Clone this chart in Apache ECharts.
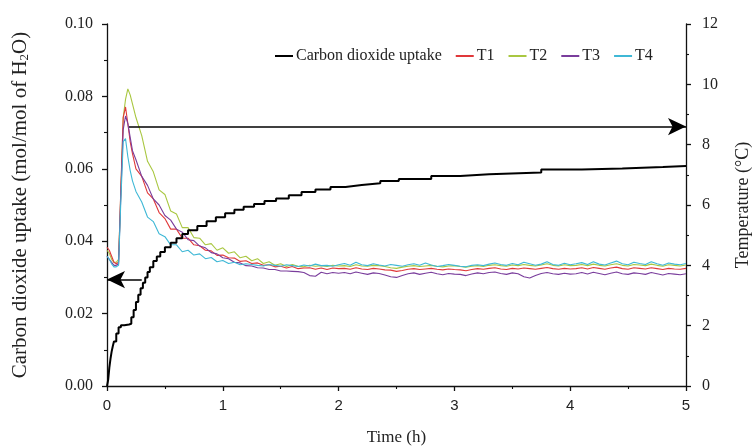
<!DOCTYPE html>
<html><head><meta charset="utf-8">
<script src="https://cdn.jsdelivr.net/npm/echarts@6/dist/echarts.min.js"></script>
<style>html,body{margin:0;padding:0;background:#fff}#c{width:754px;height:447px}</style>
</head><body><div id="c"></div>
<script>
// time (h) shared by temperature series
var time = [0,0.02,0.04,0.06,0.08,0.10,0.12,0.14,0.16,0.18,0.20,0.22,
0.25,0.30,0.35,0.40,0.45,0.50,0.55,0.60,0.65,0.70,0.75,0.80,0.85,0.90,0.95,1.00,
1.05,1.10,1.15,1.20,1.25,1.30,1.35,1.40,1.45,1.50,1.55,1.60,1.65,1.70,1.75,1.80,1.85,1.90,1.95,2.00,
2.05,2.10,2.15,2.20,2.25,2.30,2.35,2.40,2.45,2.50,2.55,2.60,2.65,2.70,2.75,2.80,2.85,2.90,2.95,3.00,
3.05,3.10,3.15,3.20,3.25,3.30,3.35,3.40,3.45,3.50,3.55,3.60,3.65,3.70,3.75,3.80,3.85,3.90,3.95,4.00,
4.05,4.10,4.15,4.20,4.25,4.30,4.35,4.40,4.45,4.50,4.55,4.60,4.65,4.70,4.75,4.80,4.85,4.90,4.95,5.00];

var T1 = [4.6,4.5,4.3,4.1,4.05,4.1,6.6,8.9,9.25,8.7,8.1,7.7,
7.2,6.95,6.4,6.2,5.75,5.55,5.2,5.2,4.9,4.9,4.68,4.65,4.5,4.48,4.33,4.34,
4.25,4.24,4.13,4.15,4.06,4.08,4.0,4.02,3.95,3.97,3.91,3.96,3.89,3.91,3.92,3.87,3.91,3.86,3.91,3.89,
3.90,3.87,3.92,3.88,3.86,3.90,3.88,3.85,3.84,3.80,3.83,3.87,3.89,3.86,3.88,3.90,3.87,3.85,3.88,3.86,
3.85,3.82,3.86,3.89,3.87,3.90,3.92,3.88,3.86,3.90,3.88,3.91,3.89,3.87,3.90,3.93,3.89,3.87,3.90,3.88,
3.89,3.92,3.88,3.93,3.90,3.87,3.91,3.94,3.89,3.87,3.92,3.90,3.88,3.92,3.89,3.86,3.90,3.88,3.87,3.90];

var T2 = [4.5,4.4,4.2,4.1,4.1,4.2,6.5,8.9,9.5,9.85,9.65,9.35,
8.9,8.3,7.45,7.1,6.5,6.35,5.8,5.7,5.25,5.25,4.92,4.9,4.68,4.72,4.5,4.58,
4.4,4.45,4.25,4.3,4.15,4.22,4.06,4.12,4.0,4.05,3.96,4.03,3.97,3.95,4.00,3.97,3.99,3.96,4.00,3.98,
3.99,3.96,4.02,3.98,3.97,4.00,3.99,3.96,3.92,3.90,3.94,3.97,3.99,3.96,3.98,4.00,3.97,3.95,3.98,3.99,
3.96,3.94,3.97,3.99,3.96,4.00,4.02,3.99,3.97,4.01,3.99,4.03,4.00,3.98,4.01,4.05,4.00,3.98,4.02,3.99,
4.00,4.03,3.99,4.04,4.00,3.98,4.02,4.05,4.00,3.98,4.03,4.01,3.99,4.04,4.00,3.97,4.02,4.00,3.98,4.01];

var T3 = [4.3,4.2,4.1,4.0,4.0,4.05,6.4,8.5,8.95,8.7,8.25,7.8,
7.5,6.95,6.65,6.2,6.0,5.65,5.5,5.2,5.1,4.85,4.82,4.64,4.58,4.42,4.38,4.25,
4.22,4.1,4.08,3.99,3.98,3.92,3.91,3.86,3.86,3.81,3.81,3.80,3.79,3.76,3.66,3.64,3.77,3.72,3.76,3.74,
3.76,3.72,3.78,3.74,3.70,3.75,3.73,3.68,3.62,3.60,3.66,3.72,3.75,3.70,3.74,3.77,3.72,3.69,3.73,3.71,
3.70,3.66,3.71,3.75,3.72,3.76,3.78,3.73,3.70,3.75,3.72,3.62,3.58,3.66,3.73,3.76,3.72,3.70,3.74,3.71,
3.72,3.76,3.71,3.77,3.73,3.69,3.74,3.78,3.72,3.70,3.75,3.73,3.70,3.76,3.72,3.68,3.73,3.71,3.69,3.72];

var T4 = [4.3,4.2,4.05,3.95,3.95,4.0,6.2,8.1,8.2,7.6,7.15,6.8,
6.45,6.1,5.6,5.45,5.05,4.95,4.68,4.68,4.45,4.5,4.34,4.38,4.22,4.26,4.12,4.16,
4.06,4.1,4.02,4.05,4.03,4.00,3.98,4.03,4.00,3.97,4.02,3.99,3.96,4.01,3.98,4.04,3.99,4.00,3.97,4.02,
4.06,4.00,4.10,4.02,3.99,4.05,4.01,3.98,4.03,4.00,3.97,4.02,4.05,4.00,4.08,4.01,3.96,3.99,4.03,4.00,
3.97,3.95,4.00,4.02,3.99,4.04,4.08,4.03,4.00,4.06,4.02,4.10,4.05,4.00,4.04,4.12,4.03,4.00,4.07,4.02,
4.05,4.09,4.03,4.12,4.04,4.01,4.08,4.14,4.05,4.02,4.10,4.06,4.03,4.12,4.05,4.00,4.08,4.04,4.02,4.06];

// carbon dioxide uptake (mol/mol of H2O)
var uptakeTime = [0,0.005,0.01,0.02,0.03,0.04,0.05,0.06,0.08,0.10,0.12,0.15,0.19,0.21,0.23,0.25,0.27,0.29,0.31,0.33,0.35,0.37,0.40,0.43,0.46,0.50,
0.55,0.60,0.65,0.70,0.78,0.86,0.94,1.02,1.10,1.18,1.27,1.36,1.46,1.57,1.68,1.80,1.93,2.06,2.20,2.36,2.52,2.80,3.05,3.30,3.75,4.10,4.45,4.80,5.00];
var uptake = [0,0.0008,0.0017,0.005,0.0075,0.0095,0.0110,0.0123,0.0145,0.0162,0.0168,0.0170,0.0172,0.0190,0.0210,0.0232,0.0252,0.0270,0.0285,0.0300,0.0315,0.0328,0.0345,0.0358,0.0370,0.0383,
0.0396,0.0408,0.0420,0.0430,0.0442,0.0455,0.0466,0.0477,0.0487,0.0495,0.0503,0.0511,0.0518,0.0527,0.0536,0.0543,0.0550,0.0555,0.0560,0.0566,0.0572,0.0580,0.0585,0.0590,0.0598,0.0601,0.0605,0.0608,0.0609];

var xTicks = [0,1,2,3,4,5];

// arrows (axis indicators)
var arrowRightTemp = 8.6, arrowRightFrom = 0.19;
var arrowLeftUptake = 0.0294, arrowLeftFrom = 0.30;

function zip(t, v){ return t.map(function(x,i){ return [x, v[i]]; }); }

var serif = 'Liberation Serif';
var chart = echarts.init(document.getElementById('c'));
var axisLine = {show:true, lineStyle:{color:'#111', width:1.3}};
var tick = {show:true, length:5, lineStyle:{color:'#111', width:1.3}};
var minor = {show:true, splitNumber:2, length:3, lineStyle:{color:'#111', width:1.1}};

function tempSeries(name, data, color, z){
  return {name:name, type:'line', yAxisIndex:1, data:zip(time,data), symbol:'none',
    lineStyle:{color:color, width:1.1}, itemStyle:{color:color}, z:z, animation:false};
}

var t4 = tempSeries('T4', T4, '#3fb8d6', 6);
t4.markLine = {silent:true, symbol:['none','arrow'], symbolSize:[13,18], label:{show:false},
  lineStyle:{color:'#000', width:1.6, type:'solid'},
  data:[[{coord:[arrowRightFrom, arrowRightTemp]},{coord:[5, arrowRightTemp]}]]};

var option = {
  animation:false,
  backgroundColor:'#fff',
  grid:{left:107, right:68, top:24, bottom:61, containLabel:false, outerBoundsMode:'none'},
  legend:{
    top:43, left:270, itemWidth:18, itemHeight:2, itemGap:14, icon:'rect',
    textStyle:{fontFamily:serif, fontSize:16, color:'#222', padding:[0,0,0,-2]},
    data:['Carbon dioxide uptake','T1','T2','T3','T4']
  },
  xAxis:{type:'value', min:0, max:5, interval:1,
    name:'Time (h)', nameLocation:'middle', nameGap:43,
    nameTextStyle:{fontFamily:serif, fontSize:17, color:'#222'},
    axisLine:axisLine, axisTick:tick, minorTick:minor, splitLine:{show:false},
    axisLabel:{fontFamily:'Liberation Sans', fontSize:15, color:'#222', margin:12,
      formatter:function(v){ return xTicks.indexOf(v)>=0 ? String(v) : ''; }}
  },
  yAxis:[
    {type:'value', min:0, max:0.1, interval:0.02, position:'left',
     name:'{a|Carbon dioxide uptake (mol/mol of H}{s|2}{a|O)}', nameLocation:'middle', nameGap:76, nameRotate:90,
     nameTextStyle:{rich:{a:{fontFamily:serif, fontSize:21, color:'#222'}, s:{fontFamily:serif, fontSize:13, color:'#222', verticalAlign:'bottom', padding:[9,0,0,0]}}},
     axisLine:axisLine, axisTick:tick, minorTick:minor, splitLine:{show:false},
     axisLabel:{fontFamily:serif, fontSize:16, color:'#222', margin:14,
       formatter:function(v){ return v.toFixed(2); }}
    },
    {type:'value', min:0, max:12, interval:2, position:'right',
     name:'Temperature (°C)', nameLocation:'middle', nameGap:48, nameRotate:90,
     nameTextStyle:{fontFamily:serif, fontSize:18, color:'#222'},
     axisLine:axisLine, axisTick:tick, minorTick:minor, splitLine:{show:false},
     axisLabel:{fontFamily:serif, fontSize:16, color:'#222', margin:16}
    }
  ],
  series:[
    {name:'Carbon dioxide uptake', type:'line', yAxisIndex:0, data:zip(uptakeTime, uptake), symbol:'none', step:'end',
     lineStyle:{color:'#000', width:2}, itemStyle:{color:'#000'}, z:7, animation:false,
     markLine:{silent:true, symbol:['none','arrow'], symbolSize:[13,18], label:{show:false},
       lineStyle:{color:'#000', width:1.6, type:'solid'},
       data:[[{coord:[arrowLeftFrom, arrowLeftUptake]},{coord:[0, arrowLeftUptake]}]]}
    },
    tempSeries('T1', T1, '#e0383a', 4),
    tempSeries('T2', T2, '#a9c741', 3),
    tempSeries('T3', T3, '#7a3d9c', 5),
    t4
  ]
};
chart.setOption(option);
</script></body></html>
